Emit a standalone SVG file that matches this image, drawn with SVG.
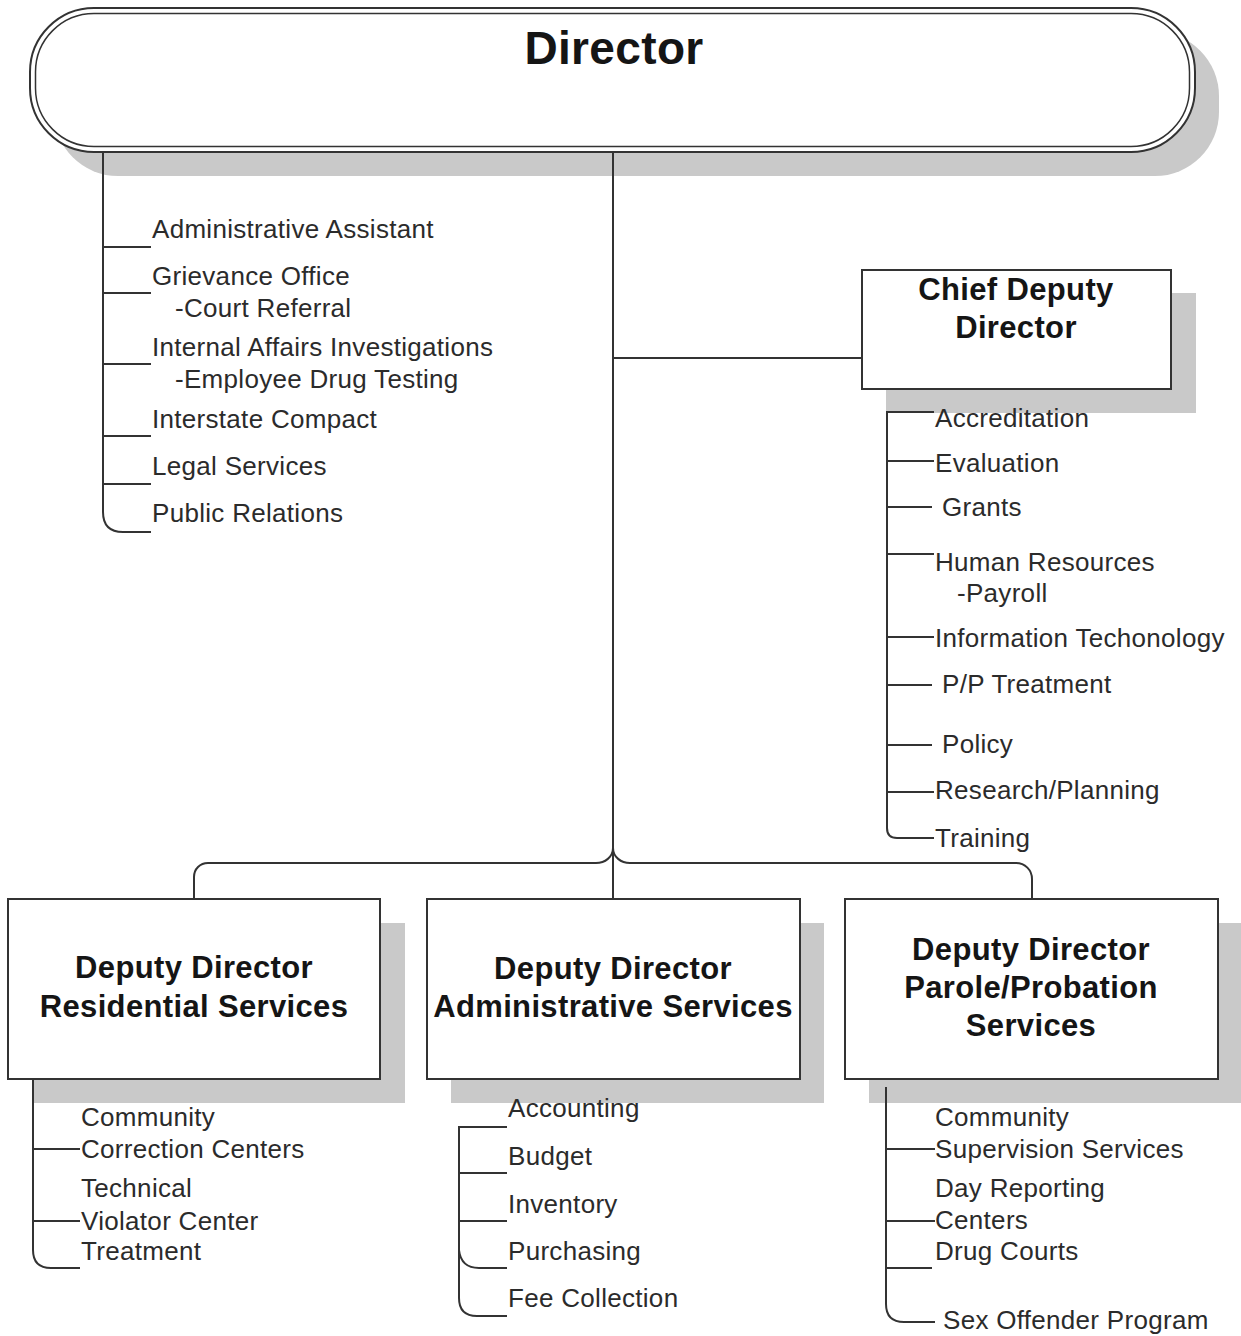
<svg xmlns="http://www.w3.org/2000/svg" width="1241" height="1336" viewBox="0 0 1241 1336">
<style>
.shadow{fill:#c9c9c9}
.box{fill:#fff;stroke:#333;stroke-width:2}
.inner{fill:none;stroke:#333;stroke-width:1.5}
.ln{fill:none;stroke:#333;stroke-width:2}
.title{font-family:"Liberation Sans",Arial,sans-serif;font-weight:bold;fill:#151515;text-anchor:middle;letter-spacing:0.35px}
.item{font-family:"Liberation Sans",Arial,sans-serif;font-size:26px;fill:#2b2b2b;letter-spacing:0.3px}
</style>
<rect width="1241" height="1336" fill="#fff"/>

<g id="shadows">
<rect class="shadow" x="54" y="32" width="1165" height="144" rx="64"/>
<rect class="shadow" x="886" y="293" width="310" height="120"/>
<rect class="shadow" x="32" y="923" width="373" height="180"/>
<rect class="shadow" x="451" y="923" width="373" height="180"/>
<rect class="shadow" x="869" y="923" width="373" height="180"/>
</g>

<g id="connectors">
<path class="ln" d="M613,152 V899"/>
<path class="ln" d="M613,358 H862"/>
<path class="ln" d="M613,848 C613,857 605,863 596,863 H208 C200,863 194,869 194,877 V899"/>
<path class="ln" d="M613,848 C613,857 621,863 630,863 H1016 C1025,863 1032,870 1032,879 V899"/>
<path class="ln" d="M103,152 V512 Q103,532 123,532 H151"/>
<path class="ln" d="M103,247 H151 M103,293 H151 M103,364 H151 M103,436 H151 M103,484 H151"/>
<path class="ln" d="M934,412 H887 V828 Q887,838 897,838 H934"/>
<path class="ln" d="M887,461 H934 M887,507 H932 M887,554 H934 M887,637 H934 M887,685 H932 M887,745 H932 M887,792 H934"/>
<path class="ln" d="M33,1079 V1250 Q33,1268 51,1268 H80"/>
<path class="ln" d="M33,1149 H80 M33,1221 H80"/>
<path class="ln" d="M507,1127 H459 V1298 Q459,1316 477,1316 H507"/>
<path class="ln" d="M459,1173 H507 M459,1221 H507"/>
<path class="ln" d="M459,1250 Q461,1268 479,1268 H507"/>
<path class="ln" d="M886,1087 V1304 Q886,1322 904,1322 H935"/>
<path class="ln" d="M886,1149 H935 M886,1221 H935 M886,1268 H932"/>
</g>

<g id="director">
<rect class="box" x="30" y="8" width="1165" height="144" rx="64"/>
<rect class="inner" x="35.5" y="13.5" width="1154" height="133" rx="58.5"/>
<text class="title" x="614" y="64" font-size="46">Director</text>
</g>

<g id="chief-deputy-director">
<rect class="box" x="862" y="270" width="309" height="119"/>
<text class="title" x="1016" y="300" font-size="31">Chief Deputy</text>
<text class="title" x="1016" y="338" font-size="31">Director</text>
</g>

<g id="deputy-residential">
<rect class="box" x="8" y="899" width="372" height="180"/>
<text class="title" x="194" y="978" font-size="31">Deputy Director</text>
<text class="title" x="194" y="1017" font-size="31">Residential Services</text>
</g>

<g id="deputy-administrative">
<rect class="box" x="427" y="899" width="373" height="180"/>
<text class="title" x="613" y="979" font-size="31">Deputy Director</text>
<text class="title" x="613" y="1017" font-size="31">Administrative Services</text>
</g>

<g id="deputy-parole">
<rect class="box" x="845" y="899" width="373" height="180"/>
<text class="title" x="1031" y="960" font-size="31">Deputy Director</text>
<text class="title" x="1031" y="998" font-size="31">Parole/Probation</text>
<text class="title" x="1031" y="1036" font-size="31">Services</text>
</g>

<g id="director-staff">
<text class="item" x="152" y="238">Administrative Assistant</text>
<text class="item" x="152" y="285">Grievance Office</text>
<text class="item" x="175" y="317">-Court Referral</text>
<text class="item" x="152" y="356">Internal Affairs Investigations</text>
<text class="item" x="175" y="388">-Employee Drug Testing</text>
<text class="item" x="152" y="428">Interstate Compact</text>
<text class="item" x="152" y="475">Legal Services</text>
<text class="item" x="152" y="522">Public Relations</text>
</g>

<g id="chief-deputy-units">
<text class="item" x="935" y="427">Accreditation</text>
<text class="item" x="935" y="472">Evaluation</text>
<text class="item" x="942" y="516">Grants</text>
<text class="item" x="935" y="571">Human Resources</text>
<text class="item" x="957" y="602">-Payroll</text>
<text class="item" x="935" y="647">Information Techonology</text>
<text class="item" x="942" y="693">P/P Treatment</text>
<text class="item" x="942" y="753">Policy</text>
<text class="item" x="935" y="799">Research/Planning</text>
<text class="item" x="935" y="847">Training</text>
</g>

<g id="residential-units">
<text class="item" x="81" y="1126">Community</text>
<text class="item" x="81" y="1158">Correction Centers</text>
<text class="item" x="81" y="1197">Technical</text>
<text class="item" x="81" y="1230">Violator Center</text>
<text class="item" x="81" y="1260">Treatment</text>
</g>

<g id="administrative-units">
<text class="item" x="508" y="1117">Accounting</text>
<text class="item" x="508" y="1165">Budget</text>
<text class="item" x="508" y="1213">Inventory</text>
<text class="item" x="508" y="1260">Purchasing</text>
<text class="item" x="508" y="1307">Fee Collection</text>
</g>

<g id="parole-units">
<text class="item" x="935" y="1126">Community</text>
<text class="item" x="935" y="1158">Supervision Services</text>
<text class="item" x="935" y="1197">Day Reporting</text>
<text class="item" x="935" y="1229">Centers</text>
<text class="item" x="935" y="1260">Drug Courts</text>
<text class="item" x="943" y="1329">Sex Offender Program</text>
</g>
</svg>
